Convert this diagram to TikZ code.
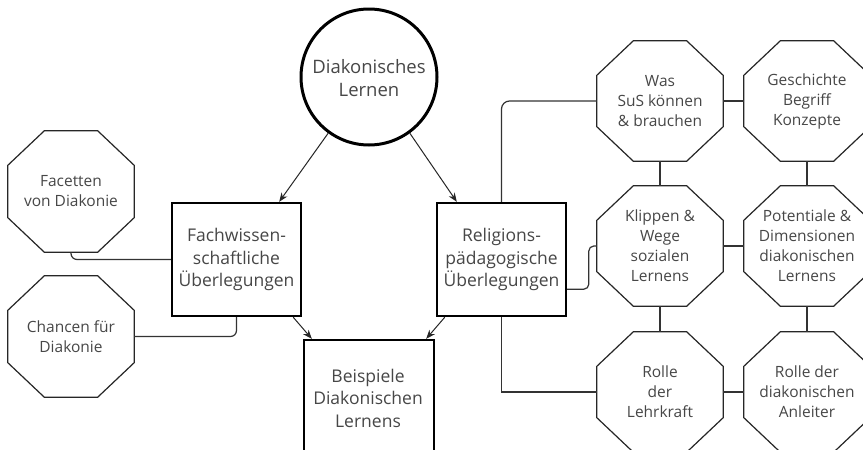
\documentclass[tikz,border=0pt]{standalone}
\usepackage{fontspec}
\setmainfont{Open Sans}
\usetikzlibrary{shapes.geometric,calc,arrows.meta}
\begin{document}
\begin{tikzpicture}[x=1pt,y=1pt,
  txt/.style={font=\fontsize{15.5}{20}\selectfont, text=black!72, align=center, inner sep=0pt},
  btxt/.style={txt, font=\fontsize{17.5}{22.5}\selectfont},
  ctxt/.style={txt, font=\fontsize{18.5}{23}\selectfont},
  octbox/.style={rectangle, minimum width=126pt, minimum height=120pt, inner sep=0pt},
  octline/.style={draw=black!85, line width=1.2pt, line join=miter},
  bigbox/.style={rectangle, draw=black, line width=2.4pt, minimum width=129pt, minimum height=113pt, inner sep=0pt},
  conn/.style={draw=black!80, line width=1.2pt},
  arr/.style={draw=black!85, line width=1pt, -{Stealth[length=9pt,width=7pt]}}]
\useasboundingbox (0,0) rectangle (863,-450);
\fill[white] (0,0) rectangle (863,-450);
\node[circle, draw=black, line width=3pt, minimum size=136pt, inner sep=0pt] (circ) at (369,-77) {};
\node[ctxt] (circt) at (369,-78) {Diakonisches\\Lernen};
\node[bigbox] (fach) at (236.5,-259.5) {};
\node[btxt] (facht) at (fach) {Fachwissen-\\schaftliche\\Überlegungen};
\node[bigbox] (rel) at (501.5,-259.5) {};
\node[btxt] (relt) at (rel) {Religions-\\pädagogische\\Überlegungen};
\node[bigbox, minimum width=130pt, minimum height=114pt] (beis) at (369,-397) {};
\node[btxt] (beist) at (368,-398) {Beispiele\\Diakonischen\\Lernens};
\node[octbox, minimum height=121pt] (fac) at (71,-191.5) {};
\node[txt] (fact) at (fac) {Facetten\\von Diakonie};
\node[octbox, minimum height=121pt] (cha) at (71,-336.5) {};
\node[txt] (chat) at (cha) {Chancen für\\Diakonie};
\node[octbox] (was) at (660,-101) {};
\node[txt] (wast) at (was) {Was\\SuS können\\\& brauchen};
\node[octbox] (ges) at (807,-101) {};
\node[txt] (gest) at (ges) {Geschichte\\Begriff\\Konzepte};
\node[octbox] (kli) at (660,-246) {};
\node[txt] (klit) at (kli) {Klippen \&\\Wege\\sozialen\\Lernens};
\node[octbox] (pot) at (807,-246) {};
\node[txt] (pott) at (pot) {Potentiale \&\\Dimensionen\\diakonischen\\Lernens};
\node[octbox] (rol) at (660,-392) {};
\node[txt] (rolt) at (rol) {Rolle\\der\\Lehrkraft};
\node[octbox] (rda) at (807,-392) {};
\node[txt] (rdat) at (rda) {Rolle der\\diakonischen\\Anleiter};
\foreach \n in {fac,cha,was,ges,kli,pot,rol,rda}{
  \draw[octline] ($(\n.north west)+(36.5,0)$) -- ($(\n.north east)+(-36.5,0)$)
    -- ($(\n.north east)+(0,-34.5)$) -- ($(\n.south east)+(0,34.5)$)
    -- ($(\n.south east)+(-36.5,0)$) -- ($(\n.south west)+(36.5,0)$)
    -- ($(\n.south west)+(0,34.5)$) -- ($(\n.north west)+(0,-34.5)$) -- cycle;
}
% arrows
\draw[arr] (circ.-126) -- ($(fach.north east)+(-23,0)$);
\draw[arr] (circ.-54) -- ($(rel.north west)+(21,0)$);
\draw[arr] ($(fach.south east)+(-9,0)$) -- ($(beis.north west)+(9,0)$);
\draw[arr] ($(rel.south west)+(9,0)$) -- ($(beis.north east)+(-9,0)$);
% left connectors
\draw[conn, rounded corners=6pt] (fac.south) |- (fach.west);
\draw[conn, rounded corners=6pt] (cha.east) -| (fach.south);
% right connectors
\draw[conn, rounded corners=8pt] (rel.north) |- (was.west);
\draw[conn] (rel.south) |- (rol.west);
\coordinate (rs) at ($(rel.south east)+(0,28)$);
\coordinate (kc) at ($(kli.west)+(-8,0)$);
\draw[conn, rounded corners=5pt] (rs) -| (kc) -- (kli.west);
\draw[conn] (was.east) -- (ges.west);
\draw[conn] (kli.east) -- (pot.west);
\draw[conn] (rol.east) -- (rda.west);
\draw[conn] (was.south) -- (kli.north);
\draw[conn] (kli.south) -- (rol.north);
\draw[conn] (ges.south) -- (pot.north);
\draw[conn] (pot.south) -- (rda.north);
\end{tikzpicture}
\end{document}
